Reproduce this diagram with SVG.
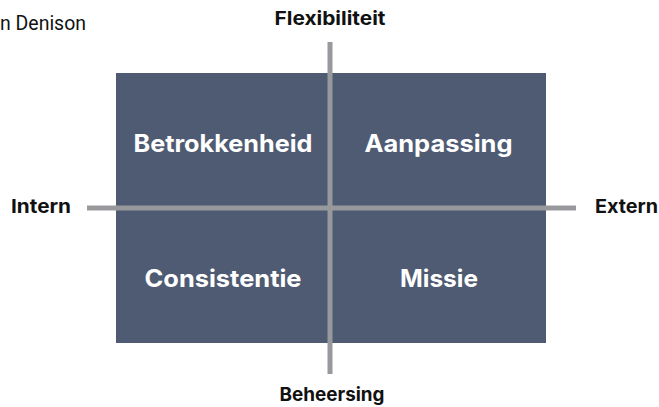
<svg xmlns="http://www.w3.org/2000/svg" width="659" height="407" viewBox="0 0 659 407">
  <style>
    .axis-label { font-family: Inter, "Liberation Sans", sans-serif; font-weight: 700; font-size: 19px; fill: #111111; }
    .quadrant-label { font-family: Inter, "Liberation Sans", sans-serif; font-weight: 700; font-size: 24px; fill: #ffffff; text-anchor: middle; }
    .caption { font-family: Roboto, "Liberation Sans", sans-serif; font-size: 21px; fill: #111111; }
    .quadrant { fill: #4e5b72; }
    .axis { stroke: #98999c; stroke-width: 5; fill: none; }
  </style>

  <!-- source caption, clipped at the left edge -->
  <text class="caption" x="0" y="30" textLength="86" lengthAdjust="spacingAndGlyphs">n Denison</text>

  <!-- four quadrants of the culture model -->
  <g id="betrokkenheid">
    <rect class="quadrant" x="116" y="73" width="215" height="135"/>
    <text class="quadrant-label" x="223" y="152" textLength="179" lengthAdjust="spacingAndGlyphs">Betrokkenheid</text>
  </g>
  <g id="aanpassing">
    <rect class="quadrant" x="331" y="73" width="215" height="135"/>
    <text class="quadrant-label" x="438.5" y="152" textLength="148" lengthAdjust="spacingAndGlyphs">Aanpassing</text>
  </g>
  <g id="consistentie">
    <rect class="quadrant" x="116" y="208" width="215" height="135"/>
    <text class="quadrant-label" x="223" y="287" textLength="157" lengthAdjust="spacingAndGlyphs">Consistentie</text>
  </g>
  <g id="missie">
    <rect class="quadrant" x="331" y="208" width="215" height="135"/>
    <text class="quadrant-label" x="439" y="287" textLength="78" lengthAdjust="spacingAndGlyphs">Missie</text>
  </g>

  <!-- axes crossing the quadrants -->
  <g id="axes">
    <line class="axis" x1="330" y1="42" x2="330" y2="374"/>
    <line class="axis" x1="87" y1="208" x2="576" y2="208"/>
  </g>

  <!-- axis end labels -->
  <g id="flexibiliteit">
    <text class="axis-label" x="330" y="25" text-anchor="middle" textLength="111" lengthAdjust="spacingAndGlyphs">Flexibiliteit</text>
  </g>
  <g id="beheersing">
    <text class="axis-label" x="332" y="401" text-anchor="middle" textLength="105" lengthAdjust="spacingAndGlyphs">Beheersing</text>
  </g>
  <g id="intern">
    <text class="axis-label" x="11" y="213" textLength="60" lengthAdjust="spacingAndGlyphs">Intern</text>
  </g>
  <g id="extern">
    <text class="axis-label" x="595" y="213" textLength="63" lengthAdjust="spacingAndGlyphs">Extern</text>
  </g>
</svg>
